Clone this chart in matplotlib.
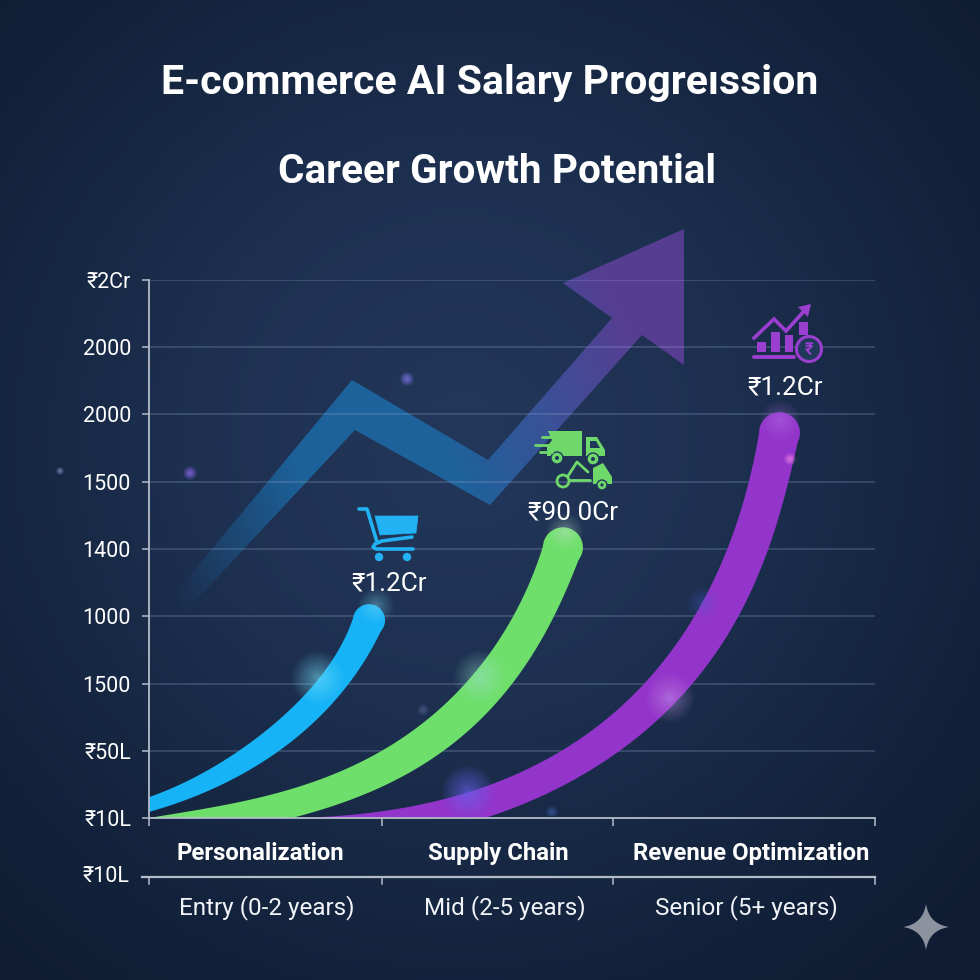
import numpy as np
import matplotlib
matplotlib.use("Agg")
import matplotlib.pyplot as plt
from matplotlib.colors import LinearSegmentedColormap
from matplotlib.patches import Circle, Polygon, PathPatch, Rectangle
from matplotlib.path import Path

plt.rcParams["font.family"] = ["Roboto", "DejaVu Sans"]

SIZE = 980

TITLE_1 = "E-commerce AI Salary Progreıssion"
TITLE_2 = "Career Growth Potential"

# y axis: tick slots, the labels do not follow a real scale in the picture
Y_TICKS = [0, 1, 2, 3, 4, 5, 6, 7, 8]
Y_LABELS = ["₹10L", "₹50L", "1500", "1000", "1400", "1500", "2000", "2000", "₹2Cr"]
LOW_TICK = -0.877
LOW_LABEL = "₹10L"
X_TICKS = [0, 0.963, 1.917, 3]

CATEGORIES = ["Personalization", "Supply Chain", "Revenue Optimization"]
LEVELS = ["Entry (0-2 years)", "Mid (2-5 years)", "Senior (5+ years)"]
CAT_X = [0.46, 1.443, 2.488]
LEVEL_X = [0.485, 1.47, 2.47]

# curves, upper and lower edge of each band
BLUE_UP_X = [0, 0.169, 0.376, 0.512, 0.678, 0.777, 0.843]
BLUE_UP_Y = [0.31, 0.57, 1.01, 1.38, 1.98, 2.45, 2.97]
BLUE_LO_X = [0, 0.169, 0.376, 0.570, 0.719, 0.843, 0.926, 0.975]
BLUE_LO_Y = [0.09, 0.27, 0.67, 1.06, 1.56, 2.08, 2.57, 2.91]

GREEN_UP_X = [0, 0.240, 0.512, 0.789, 1.037, 1.314, 1.492, 1.628]
GREEN_UP_Y = [0, 0.15, 0.34, 0.71, 1.16, 2.01, 2.94, 4.04]
GREEN_LO_X = [0.591, 0.789, 1.037, 1.273, 1.504, 1.669, 1.793]
GREEN_LO_Y = [0, 0.22, 0.59, 1.16, 2.01, 2.97, 4.01]

PURPLE_UP_X = [0.591, 1.037, 1.355, 1.698, 2.017, 2.256, 2.388, 2.475, 2.521]
PURPLE_UP_Y = [0, 0.15, 0.42, 0.98, 1.90, 2.99, 3.99, 5.0, 5.72]
PURPLE_LO_X = [1.388, 1.698, 1.917, 2.112, 2.248, 2.442, 2.558, 2.636, 2.690]
PURPLE_LO_Y = [0, 0.42, 0.97, 1.50, 2.01, 2.99, 3.99, 5.0, 5.74]

VALUE_LABELS = ["₹1.2Cr", "₹90 0Cr", "₹1.2Cr"]

BLUE = "#16b3f6"
GREEN = "#6edf6b"
PURPLE = "#9335ca"
AXIS_COL = "#b4bcc9"


def smooth_edge(pts, deg=4):
    # the read edge points are noisy, run a low order fit through them for a clean outline
    pts = np.asarray(pts, dtype=float)
    s = np.r_[0, np.cumsum(np.linalg.norm(np.diff(pts, axis=0), axis=1))]
    s /= s[-1]
    weights = np.ones(len(s))
    weights[[0, -1]] = 5
    fx = np.polyfit(s, pts[:, 0], deg, w=weights)
    fy = np.polyfit(s, pts[:, 1], deg, w=weights)
    grid = np.linspace(0, 1, 120)
    return np.column_stack([np.polyval(fx, grid), np.polyval(fy, grid)])


def band(ax, up_x, up_y, lo_x, lo_y, color):
    upper = smooth_edge(ax.transData.transform(np.column_stack([up_x, up_y])))
    lower = smooth_edge(ax.transData.transform(np.column_stack([lo_x, lo_y])))
    patch = Polygon(np.vstack([upper, lower[::-1]]), closed=True, fc=color, ec="none", transform=None, zorder=4)
    patch.set_clip_path(ax.patch)
    ax.add_artist(patch)
    # round tip between the two edge ends
    centre = (upper[-1] + lower[-1]) / 2
    radius = np.linalg.norm(upper[-1] - lower[-1]) / 2
    ax.add_artist(Circle(centre, radius, fc=color, ec="none", transform=None, zorder=4))


def glow(ax, x, y, radius, color, strength=0.1):
    for k in np.linspace(1, 0.2, 16) ** 1.8:
        ax.add_patch(Circle((x, y), radius * k, fc=color, ec="none", alpha=strength, zorder=6))


fig = plt.figure(figsize=(SIZE / 100, SIZE / 100), dpi=100)

# background and decoration layer, pixel coordinates
bg = fig.add_axes([0, 0, 1, 1], zorder=0)
bg.set_xlim(0, SIZE)
bg.set_ylim(SIZE, 0)
bg.axis("off")

yy, xx = np.mgrid[0:1:200j, 0:1:200j]
dist = np.sqrt((xx - 0.47) ** 2 + (yy - 0.45) ** 2)
bg_cmap = LinearSegmentedColormap.from_list("bg", ["#223659", "#1d3050", "#15253f", "#0f1c33"])
bg.imshow(dist, cmap=bg_cmap, extent=[0, SIZE, SIZE, 0], vmin=0.05, vmax=0.72, aspect="auto")

# big faded arrow
arrow_pts = [(178, 590), (352, 380), (488, 460), (612, 318), (563, 283), (684, 229),
             (684, 365), (642, 335), (490, 505), (355, 430), (185, 612)]
arrow = Polygon(arrow_pts, closed=True, fc="none", ec="none", transform=bg.transData)
bg.add_patch(arrow)
gx, gy = np.meshgrid(np.linspace(0, 1, 300), np.linspace(0, 1, 300))
t = np.clip(gx * 0.75 + (1 - gy) * 0.25, 0, 1)
rgba = np.zeros((300, 300, 4))
c_a = np.array([0.11, 0.45, 0.70])
c_b = np.array([0.42, 0.26, 0.66])
mix = np.clip((t - 0.5) / 0.35, 0, 1)[..., None]
rgba[..., :3] = c_a * (1 - mix) + c_b * mix
rgba[..., 3] = np.clip((t - 0.02) / 0.35, 0.05, 0.75)
img = bg.imshow(rgba, extent=[170, 690, 620, 225], aspect="auto", zorder=2)
img.set_clip_path(arrow)
bg.set_xlim(0, SIZE)
bg.set_ylim(SIZE, 0)

# chart axes
ax = fig.add_axes([149 / SIZE, 1 - 818 / SIZE, 726 / SIZE, 538 / SIZE], zorder=1)
ax.patch.set_alpha(0)
ax.set_xlim(0, 3)
ax.set_ylim(0, 8)
for side in ["top", "right"]:
    ax.spines[side].set_visible(False)
for side in ["left", "bottom"]:
    ax.spines[side].set_color(AXIS_COL)
    ax.spines[side].set_linewidth(1.3)
    ax.spines[side].set_zorder(5)

ax.set_yticks(Y_TICKS)
ax.set_yticklabels(Y_LABELS, color="white", fontsize=15.5)
ax.set_xticks(X_TICKS)
ax.set_xticklabels([])
ax.tick_params(axis="y", direction="out", length=5, width=1.1, color=AXIS_COL, pad=8)
ax.tick_params(axis="x", direction="out", length=5.5, width=1.1, color=AXIS_COL)
for tick_y in Y_TICKS[1:]:
    ax.axhline(tick_y, color="#8fa3c8", alpha=0.28, lw=1.3, zorder=1)

# second baseline under the category names
ax.plot([-0.029, 3], [LOW_TICK, LOW_TICK], color=AXIS_COL, lw=1.6, clip_on=False, zorder=5)
for tx in X_TICKS:
    ax.plot([tx, tx], [LOW_TICK, LOW_TICK - 0.1], color=AXIS_COL, lw=1.1, clip_on=False)
ax.text(-0.079, LOW_TICK, LOW_LABEL, ha="right", va="center", color="white", fontsize=15.5, clip_on=False)

band(ax, BLUE_UP_X, BLUE_UP_Y, BLUE_LO_X, BLUE_LO_Y, BLUE)
band(ax, GREEN_UP_X, GREEN_UP_Y, GREEN_LO_X, GREEN_LO_Y, GREEN)
band(ax, PURPLE_UP_X, PURPLE_UP_Y, PURPLE_LO_X, PURPLE_LO_Y, PURPLE)

for cx, name in zip(CAT_X, CATEGORIES):
    ax.text(cx, -0.53, name, ha="center", va="center", color="white", fontsize=17.2, fontweight="bold", clip_on=False)
for lx, name in zip(LEVEL_X, LEVELS):
    ax.text(lx, -1.33, name, ha="center", va="center", color="#f0f3f8", fontsize=17.5, clip_on=False)

# top layer, pixel coordinates: glows, icons, titles
top = fig.add_axes([0, 0, 1, 1], zorder=2)
top.patch.set_alpha(0)
top.set_xlim(0, SIZE)
top.set_ylim(SIZE, 0)
top.axis("off")

top.text(490, 83, TITLE_1, ha="center", va="center", color="white", fontsize=29.5, fontweight="bold")
top.text(497, 172, TITLE_2, ha="center", va="center", color="white", fontsize=29.2, fontweight="bold")

for (lx, ly), label in zip([(389, 583), (573, 512), (785, 387)], VALUE_LABELS):
    top.text(lx, ly, label, ha="center", va="center", color="white", fontsize=18.8)

# glow on the curves
glow(top, 318, 678, 26, "#7fe8ff", 0.05)
glow(top, 480, 677, 26, "#a8f0d8", 0.045)
glow(top, 670, 698, 24, "#d0a0f8", 0.045)
glow(top, 703, 603, 16, "#5f70e0", 0.03)
glow(top, 468, 792, 26, "#6a66f0", 0.07)
glow(top, 376, 606, 18, "#8fe6ff", 0.035)
glow(top, 565, 532, 18, "#d8fbe0", 0.035)
glow(top, 780, 420, 20, "#c080f0", 0.035)

# small sparkles
for sx, sy, col, rad in [(407, 379, "#7f78e8", 7), (190, 473, "#8c6be8", 7), (60, 471, "#7f8fc0", 4),
                         (790, 459, "#f080e8", 6), (423, 710, "#50608f", 6), (552, 812, "#3c5c9f", 6)]:
    glow(top, sx, sy, rad, col, 0.1)

# cart icon
cart = "#22b1f2"
top.plot([359, 367, 377], [509, 509, 542], color=cart, lw=2.6, solid_capstyle="round", solid_joinstyle="round")
top.add_patch(Polygon([(375, 516), (418, 516), (416, 533), (380, 535)], fc=cart, ec=cart, lw=0.5, joinstyle="round"))
top.plot([412, 382, 375, 373, 376, 413], [537, 541, 544, 547, 549, 549], color=cart, lw=2.6, solid_capstyle="round")
top.add_patch(Circle((379, 557), 4.2, fc=cart))
top.add_patch(Circle((407, 557), 4.2, fc=cart))

# truck icon
truck = "#6fd86b"
bg_dark = "#20395a"
top.add_patch(Polygon([(548, 431), (582, 431), (582, 456), (547, 456), (547, 447), (552, 440)], fc=truck))
top.add_patch(Polygon([(586, 437), (597, 437), (605, 450), (605, 456), (586, 456)], fc=truck))
top.add_patch(Polygon([(590, 441), (596, 441), (600, 448), (590, 448)], fc=bg_dark))
for lx0, lx1, ly in [(535, 556, 445), (542, 556, 437), (540, 552, 452)]:
    top.plot([lx0, lx1], [ly, ly], color=truck, lw=2, solid_capstyle="round")
for wx, wy in [(557, 458), (593, 459)]:
    top.add_patch(Circle((wx, wy), 6, fc=truck, ec=bg_dark, lw=1))
    top.add_patch(Circle((wx, wy), 2, fc=bg_dark))
top.add_patch(Polygon([(593, 468), (603, 463), (612, 477), (612, 484), (593, 484)], fc=truck))
top.add_patch(Circle((602, 485), 5, fc=truck, ec=bg_dark, lw=1))
top.add_patch(Circle((602, 485), 1.6, fc=bg_dark))
top.add_patch(Circle((563, 481), 6, fc="none", ec=truck, lw=2))
top.plot([568, 577, 588], [476, 462, 472], color=truck, lw=2, solid_capstyle="round")
top.plot([570, 590], [480, 480], color=truck, lw=2, solid_capstyle="round")

# growth icon
growth = "#9a3fd0"
for x0, y0, x1, y1 in [(757, 342, 766, 352), (771, 332, 780, 352), (785, 335, 793, 352), (799, 322, 808, 335)]:
    top.add_patch(Rectangle((x0, y0), x1 - x0, y1 - y0, fc=growth))
top.plot([754, 794], [357, 357], color=growth, lw=2.8, solid_capstyle="round")
top.plot([754, 774, 786, 806], [338, 319, 331, 309], color=growth, lw=2.6, solid_joinstyle="miter")
top.add_patch(Polygon([(811, 304), (798, 307), (808, 317)], fc=growth))
top.add_patch(Circle((809, 349), 12.5, fc=bg_dark, ec=growth, lw=2.2))
top.text(809, 349.5, "₹", ha="center", va="center", color=growth, fontsize=12, fontweight="bold")

# star mark bottom right
cx, cy, r, k = 926, 927, 23, 0.13
star = [(cx, cy - r), (cx + k * r, cy - k * r), (cx + r, cy), (cx + k * r, cy + k * r),
        (cx, cy + r), (cx - k * r, cy + k * r), (cx - r, cy), (cx - k * r, cy - k * r), (cx, cy - r)]
star_codes = [Path.MOVETO] + [Path.CURVE3] * 8
top.add_patch(PathPatch(Path(star, star_codes), fc="#8c939e", ec="none"))

fig.savefig("out.png", dpi=100)
